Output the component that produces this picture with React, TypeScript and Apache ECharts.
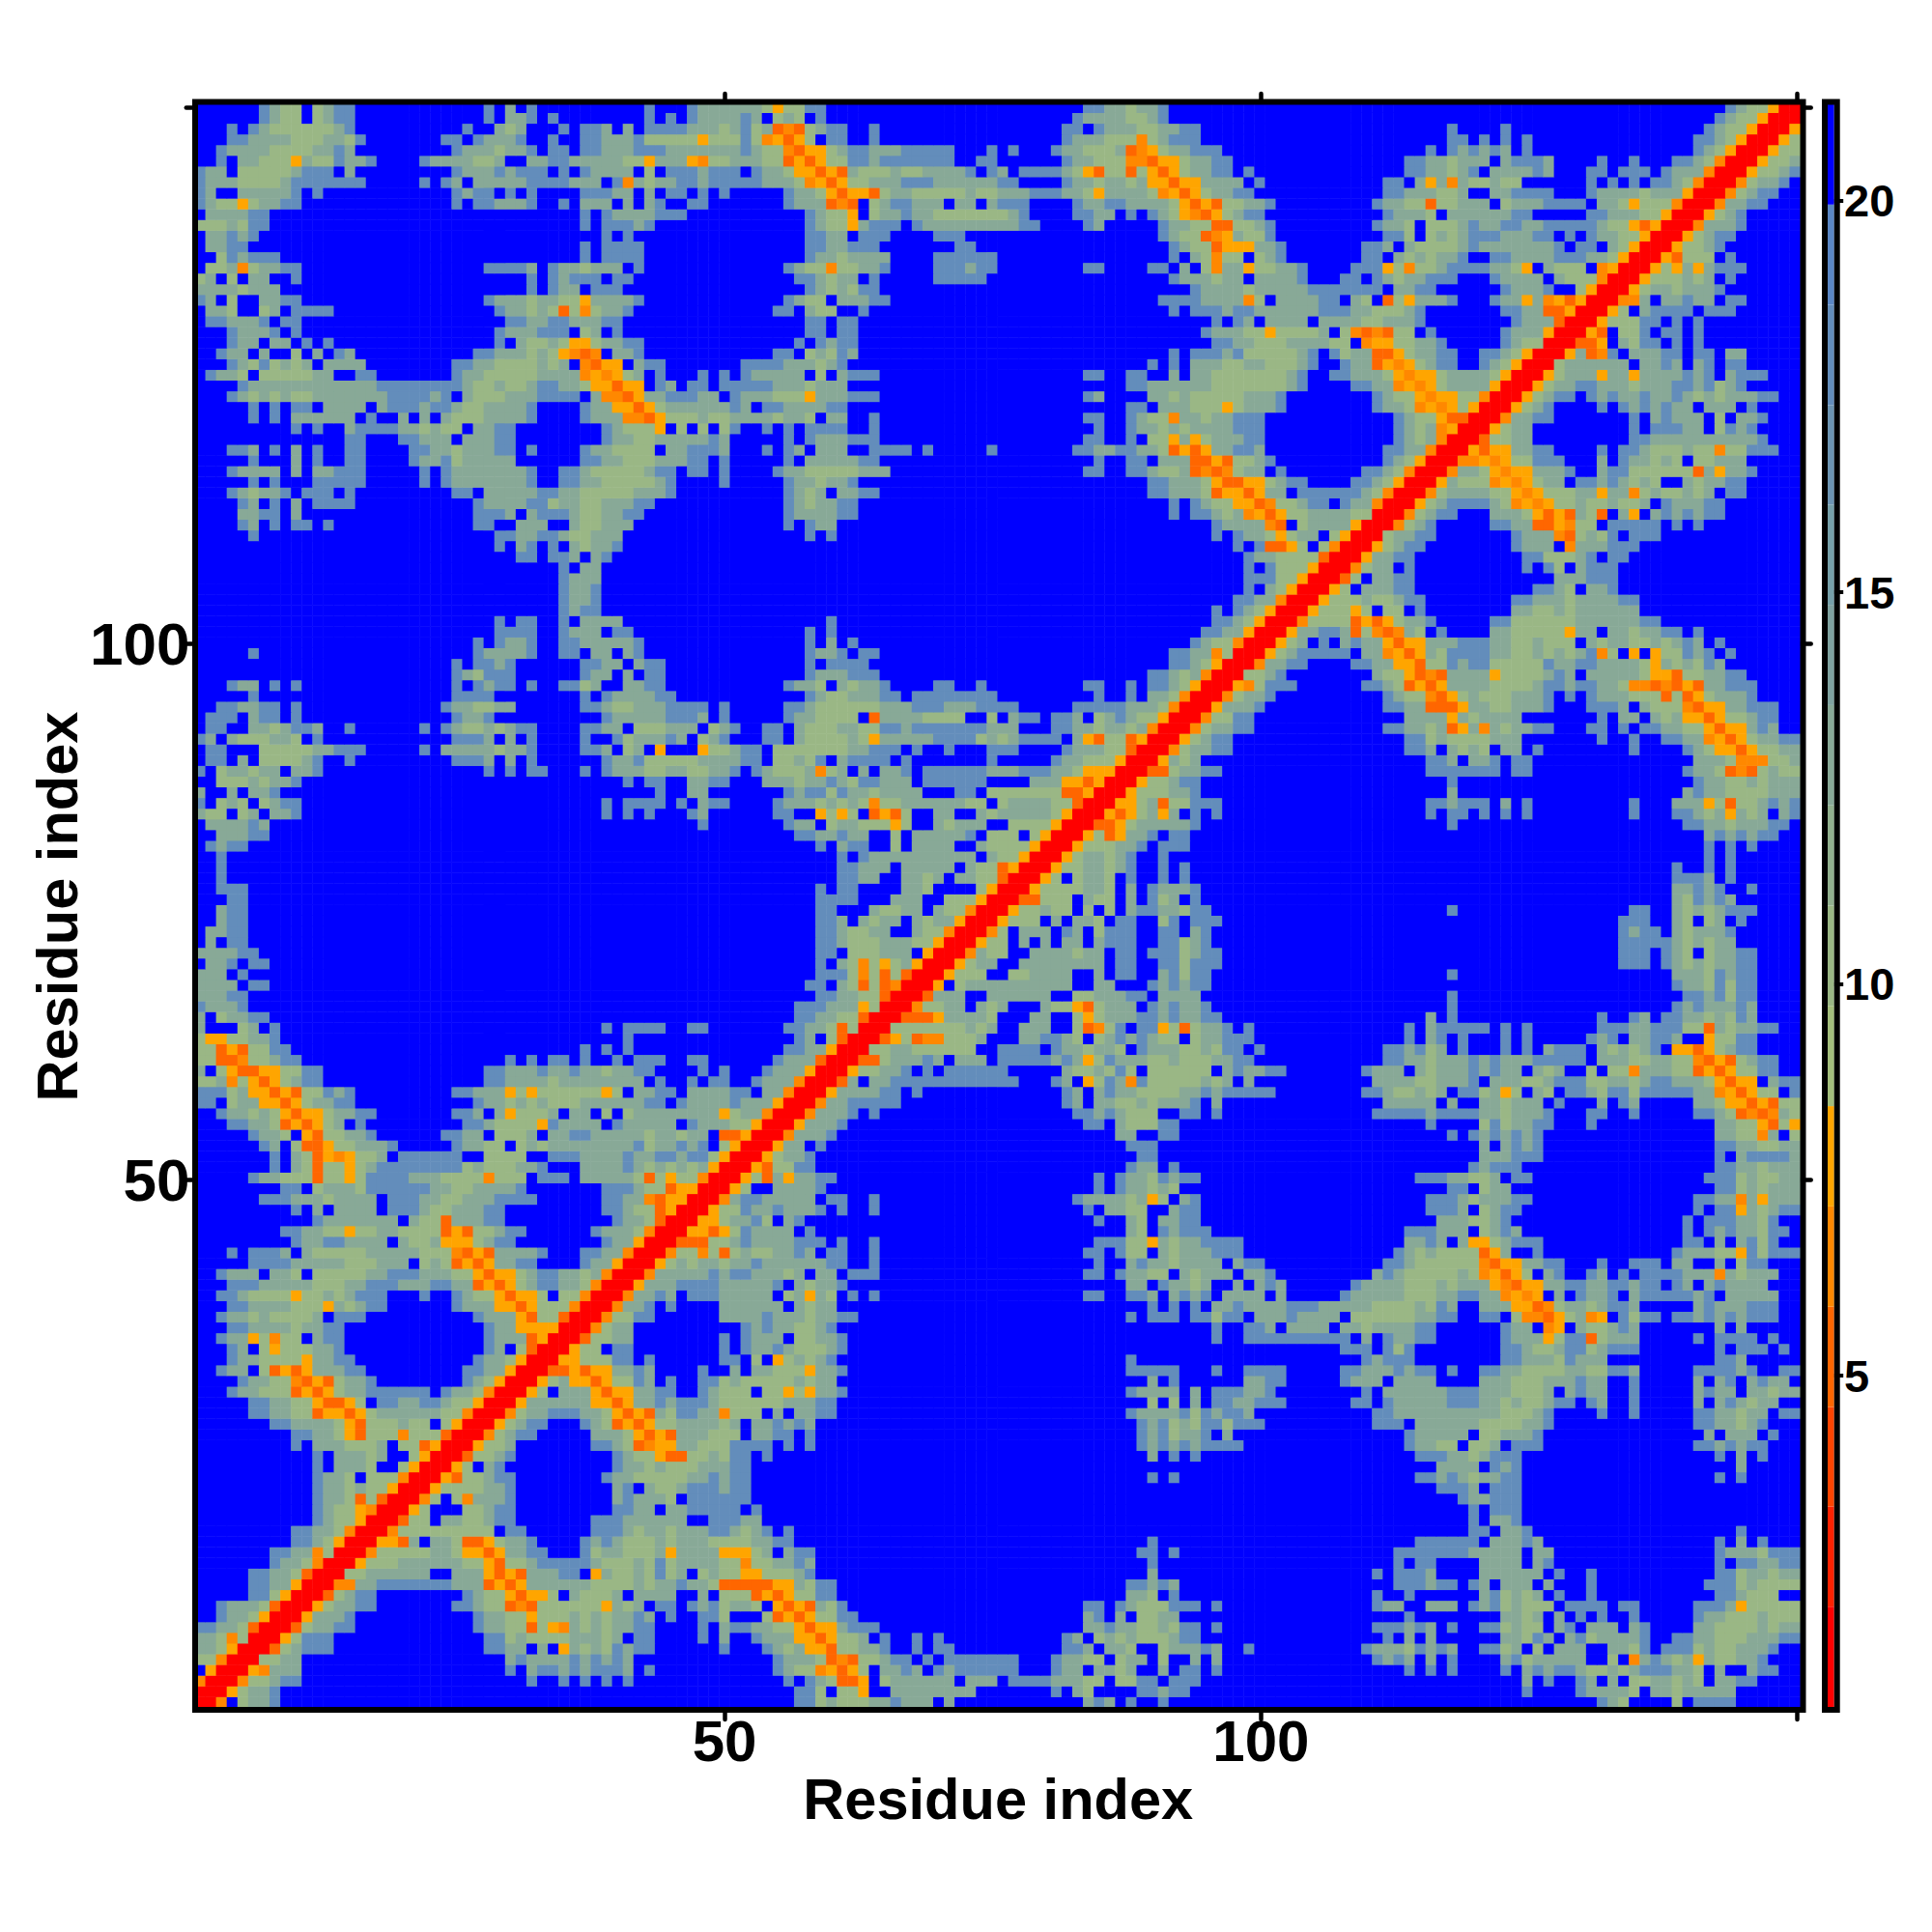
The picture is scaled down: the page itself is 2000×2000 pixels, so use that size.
import React, { useEffect, useRef } from "react";
import * as echarts from "echarts";

const FONT = "Liberation Sans";
const RESIDUES = Array.from({ length: 150 }, (_, k) => String(k + 1));
const TICK_RESIDUES = [50, 100, 150];
const LABEL_RESIDUES = [50, 100];
const COLORBAR_TICKS = [5, 10, 15, 20];
const X_TITLE = "Residue index";
const Y_TITLE = "Residue index";

// Colour key: 16 equal bands
const BAND_EDGES = [0.77, 2.05, 3.33, 4.6, 5.88, 7.16, 8.44, 9.72, 11.0, 12.28, 13.56, 14.84, 16.12, 17.39, 18.67, 19.95, 21.23];
const BAND_COLORS = ["#ff0000", "#ff2200", "#ff4400", "#ff6600", "#ff8800", "#ffa500", "#a3be7c", "#9ab785", "#91b08e", "#88a997", "#7fa2a0", "#76a0a9", "#6c94b2", "#638dbb", "#5a86c4", "#0000ff"];

// Distance read for each glyph of the rows below
const GLYPH_DISTANCE: Record<string, number> = { r: 1.4, R: 5.2, O: 6.5, o: 7.8, c: 10.3, b: 12.9, a: 18.0, ".": 20.6 };

// Rows of the symmetric distance map, residue 150 down to 1; each row runs from residue 1 to the diagonal.
// Words are ten residues long, "-" is ten residues beyond the cut-off.
const ROWS_150_101 = [
"......abcc .cbaa..... .......a.b .a........ ..a...abbb bbbcoccaa. - - ...aabbcbb a - - - - ...abccorr",
"......abcc .cbaa .......a.b ba.a ..a.a.abbb bab.cbc.a. - - ..abbbbccb a - - - - ..abccorr",
"...a.abccc cccba .....a..bc b...a.aab. b.aaaabbbc bacbRORcba a..a - .aa.abbbcc bbaa - .......a.. ..a....... - .abccorr",
"...aabbbbc ccbbca ...aa.abbb a..a..aabb bacccccocc cacOoRoc.a a..a - .abbbcccOc baaa - .......aa. a.a.a..... - aabcorr",
"..abbbbccc cbbab ....abbbcb ba.aa.aabb baaabbbbbb babccORooc baabbbaaaa a...a.a abbcccbROo cbbaaa - .....a.aba bab.a..... - abcorr",
"..a.bbccco bccabba .abbbbccb. .bbaabbbbb ccobbboOcc bbbccRoRoc caabaaaaaa a..aa .abbcccOOR oocbbaa - ...aabbcbb b.baaab... .a..a...aa bcOrr",
"abb.cccccb aaa.b ....abbbab aaa.a.abbb b.c.aaabaa a.abbcooRo Rbcccbccbb bba.ab.aaa abcoRccRco Rocbbaa.a - ...aabbcba .bbbbab... aa.aaa.abb bOrr",
"abbbccccba aaaaaa .a.ab.bbbb baaaabbb.a Obcbbaabaa aaabbbcOoR occbbbaaab bbbbbaa... .abbcbbcbo oRoobbbb.a - .aa.bobObc cbcc a.a.a.aabc Orr",
"ab..bbbbba .a ....abaa.a .a....aaab b.b.aa.a.a .....abbco RooRcbbccc ccbccbbbaa abbcobbbbc OoRocbbaa - .aabbbccb. .bbaaaa abbbbcbbbo rr",
"abccocbbaa - ....a.aabb ba..a.bbb. b.ba..aa .....abbbR OR.cbaabbb .bb.baaa ..abbaabbb bcoRoRccbb a abbccRccbb b.cbbbaaaa .bbcocccOr r",
".bbbbaa - - ......a.ab bbbaaa .......abc co.cbbabbc ccccccba ..aabb.a.a bcoORocbaa - .abbbc.bbb bbbaa aabbbccorr",
"cccbcaa - - ......a.aa aba .......abc cobaaa.abb bbbbbbbaa ...ab abbccRRccb a abbc.cccba bbaabbaaaa abccoRorr",
".bbaba - - ........a. a .......aab b.aaa....a aa - abccROobcc a .aac.cbcba aabbbaa.a. abbccorr",
".bbaa - - ......a.aa aa .......aab baaa .aa - .abccRooob ba.......a ab.bccccba bbbbbbba.a a.bcorr",
"..cabaaa - - ......a.aa aa .......abb cbbbb....a aaaaa - .a.bcOcc.c ba.......a a.bcbcbba. .aabbbbaaa bbcorr",
".ccbOcbbaa - .......aaa ab.abbcbbb .a .....abccO ccbba....a aabaa ...aa....a a.b.cObboc cbba....aa aocOccbaaa abbco.bccc .Oorr",
"cb.c.bb..a - - .a.abaaa.a a ......aabc bb.a.....a aaaa - .abbbcbb.b bbba...aa. abcbbaaa .abbbb.bcc cOrr",
"bbbbcbbb - - .a.abb.aaa - .......abc bcaa - - ...abbbbcb bbbbaaaaaa a.bbaa ..abbba..c orr",
"ab.c..bbaa - .......abb bcbbccobbb ba .....abcc. bbbaa - - aaaabbbbOc .bbbbaa.bc .Rcobbba.. .abbobOoRo rr",
".bbc..cb.a aaa ........ab bcbcRcOcbb a ....aa.bcc ..a - - .a.aaabaab bbbbbaaabb cccba ..aabbRRor r",
".aabbba.aa - .........a abbaabbbaa - .......aa. aa - - .....a.ab. bbbb.bbbbc cbbba ...abbbRrr",
"...abbba.a - ........ab bbaaa.cb.a - .......aa. aa - - ....abbbcc occccb.cOR ORcc.a ..abbborr",
"...abb.bb. a.a ........a. bccbcoocbb aa ......a.ab aa - - .....aabbc ccbbbbcc.O ooccbba ..abccrr",
"..abb.b..c .b.ab ......aabb bcbcoORO.b ba ....aa.cbc ab - - .a.aaabacc cccba.acbb RRocbbaa aabcorr",
"...abcacbc b.bbbb ....aabbcc ccbcb.ORoo .baa .aaaabbbcb a - .........a .a.bbbccbb cccba..abb RoOocbaa abcorr",
".abbc.cccc cbb..aa ....abbccc ccbbbbOoOo cb.a...a.a .abbbbb.c. baaa - ...aa..aa. .b.bbccccc ccba..aabb bcoOoocbbb bcorr",
"....abbbbb bbbbbbbaaa aaaaabccbc cbaabbcooR oo.ab.aa.a aaaabbbcbb b - .......aab bbbbbccccc ccba....aa bbOoOocbbb borr",
"...abcbcbc cbbbbbbbaa aaba.bcccb bbaaaa.bOO Robbaaabb. abbbcccobb baaa - ...ab....b bcbcccccbb ba abccoOoocc Orr",
".....a.a.a a.bbbb.baa abaabccbbb ba....abbo oRocbbbbbb ab.aabbbba a - .......aa. bbbcccocbb ba abbcOoOoco rr",
".....a.a.b bbbbb.a..b .b.bcccbbb ba....abbb OORocccbcc bbbbcbbc.b b..a - ...aa..abc cObbcbbaaa - ..abccoRRr r",
".........a .a..baaaab bcbcc.bbaa ........ab ccco.c.c.c a..a.a.aaa a..a - ....a..abb cbcbbbbaaa - ..abcbOorr",
"- ....aa...a abbb.bbbaa ........ab bccbbbbbab .....a.abb baaa - ...aa..a.c cobocbbbaa - ..abcbOrr",
"...aab.a.b .a..aa aabbcbbbaa .a....abbc ccc.bbaaab ...a.ab.bb b..aaaa.a. ....a ..aabbaabb cRoRobbaab - .aabbOrr",
".....a...b .a..aa abbacbbbbb ......aabb cccbbbaa.a .....a.bbb bbaa - ....a..aa. bbbRRoRccb a .abcorr",
"...abbbb.b .bbaaa .a.abbbbbb ba..aabccc ccbaa.aa.a ....abbccc ccbbb - ...aa..aab ccbROROcbb .a.......a abcOrr",
".....a.a.. .aaaaa .a.abbbbbb ba..aabbcc cccba....a .....abbcb ba - .........a abbbcoRRoo cbaa....aa bcorr",
"...abcbba. aaa.a ....aa.bbb bbaabbcccc cbbba .....abcb. bbaa - .........a abbbcRooRo bb.aaaaaab cOrr",
"....ab.a.b .aaaa ......abbb baacbbccbb baa .....abcbb aa - - .a.abccooR Occbaa.abb Orr",
"....bbaa.b - ......aaab .baaabccbb aa .....abbbb aa - - .a.aabcbOo Roccbbbbcc rr",
"....ab.a.a a.a ......aa.. bbb..bccbb b .....a.abb - - - .....abbbb OR.cbbbbor r",
".....a - ........aa bbaabccbbb - .......a.a - - - .....a.abb cocbb.corr",
"- - ........a. ba.a.bcbba - - - - - .......a.a RRoc.cOrr",
"- - - aa.aab.ba. - - - - - ........ab bccccRrr",
"- - - ....a.bb - - - - - ........a. acccorr",
"- - - ....abbb - - - - - ........aa accorr",
"- - - ....abba - - - - - ........a. bcorr",
"- - - ....abba - - - - - .......aab bOrr",
"- - - ....abaa - - - - - .....a.abc orr",
"- - ........a. aa..a.bbbb - .........a - - - .....aabco rr",
"- - ........aa aa..abbb.a a .......a.a - - - ....aabbor r",
];

const ROWS_100_51 = [
"- - ......a.ab ba..aabbbb ba .......a.b .a - - ...abccOrr",
".....a - ......abbb ba..aa.bb. ba .......abb a.aa - - .aabbOcrr",
"- - ....a.aaba ......aabb .baa .......a.a aaa - - .aabcorr",
"- - ....abcaaa ......abb. b.aa .......abb baaa - .........a abcbOrr",
"...abb.a.a - ....a.abaa .a..aacb.. bbaa .....abbc. bcbba....a a..a ...aa..a.a abcorr",
".....a - ....aaaa ......a.ab bbbaa .......abc cbbbaa.aaa aaaaa ....a..a.b bcOrr",
"..aabbaa.a - ...abbccbb ......aabc cbbbaaaa.a .....aabcc ccccbbbaaa bbbaaaa ..aaaaabbb cOrr",
".aaa.baa.a - ....abba ........ab bbbbaaab.a .....abbcc cc.Rbbbbcc cc..c.baa. aab.cbabcc orr",
".aa..bbcba ab..a .a.abccbcb aa....aabb .cccbbb.cb a..aa.bccc bbccaabaaa aaaabbb aabbcbbcbO rr",
"ab.bcccbbc .a ....aaab.b .a....a..a cbbbab.cba ...aa.bccc cbcobbbbba aaacbcbaaa a.boRccRor r",
".aa...cccc cbbaaa .a.bbbbbcb ba....aab. cb.o...occ baa.cccccc cbbaaa.a a...aaa .abbbccRrr",
".aa.b.cccc ba..a ....aaab.b .a......ab bacccccbbb baa.ccbca. baaaa.a ....a abbcccorr",
"a.cbbcbb.b ba .......a.a .aa...a.ab bbccbbccbb a.abcccbOc b.b.bba.aa aaaabbbaaa bbcooorr",
"..cccbcbba - - - a.aa..bbaa ...bbbcbba bcaabbb.aa aaaa....bb booRorr",
"b..b.bba - - - ...a..bb .....abaac abbcbbbb .aa.cccccc cRRorr",
"a.cbc.cbaa - - ........a. aaaa.a.baa ....abbbcb cbcOccbbbb bbcc.cbbbb ccRrr",
"bcc.cb.bba - - ........a. a.a...ab ....aa..oc oc.RoRc..b b..bcbbbbb corr",
".bbbbab - - - .......a .....abb.c bbcccoc..b cbbb..cccc orr",
"..bbbaa - - - - ......aabb abb..c.bbb bba.ccc.co rr",
".abaa - - - - ........a. baa..c.bbb b..bccccor r",
"..a - - - - - a.abbbbbbb bbb.bccorr",
"..a - - - - - aabbb.bbbb b.bccRorr",
"..a - - - - - aabb..bbcb .bbccRrr",
"..aaa - - - - ........a. aa....bbc. ...corr",
"...aa - - - - ........aa aa...bbb.. cccorr",
"..baa - - - - ........aa ...bccbb.b ccOrr",
"..baa - - - - ........aa b.bcbb.bcb borr",
".bbaa - - - - ........aa bccbb..bcc Orr",
".b.aa - - - - ........aa bcccbbbcco rr",
"bbbbaa - - - - ........aa .cccbbb.or r",
".bba.aa - - - - ........a. bcOcocborr",
"bbb.a - - - - ........aa acOcRcRrr",
"bbbb.aa - - - - .......aa. bcRcROrr",
"bbbaa - - - - ........aa bbccRrr",
"abbba - - - - ......aaab bbocrr",
"b.cbbaa - - - - ......aabb ccRrr",
"b...cb.a - - ........a. aaaa..aa .....aabbc Rcrr",
"cooccbba - - - a ......ab.c Rrr",
"ccRoRccaa. - - ......a.a. a .....aabbo rr",
"ccRROccbaa - .........a .a.aa.a..a .aaa..aa ....abbbRr r",
"b.coRRoocc aa .......aab bbabbabbcb baa....a.a ...abbborr",
"ccbOcoRocb aa .......aab bbbcbbbbbb bb.a..a.aa ..abbbOrr",
"aaacbooRoR ccaba ....aabbbo coccccccoc .bbaa.bbbb aa.bbOrr",
"aa.cbbooRo cbbaa ......abbc bcbcccbbbb bbaa.abbbb abbborr",
"..abbcbcoR oocbbaa ....aab.bo cccb.bb.c. cbbbbbbbbo cbbOrr",
"...aabbcRo Rocb.a .....aabcc ccoabbbb.a bbbbb.abbb ccorr",
".....abbc. oRccbba ...aabb.cc cb.bbaabbb bbcbbcbb.R Rorr",
"......ab.c RRoccbbba. ....abbcc. cbcbbbbbbb bacbbaba.c orr",
".......a.b cRoOoccb.a aaaaa..ccc c..aaabbbb abbaabaaco rr",
".......a.b cRccocbaaa aaaaacbccc bba...bbbb abcbcbcbor r",
];

const ROWS_50_1 = [
".....abbcc cRccocaaaa bbbccccOcc c.aaa.bbbb bcRcoccOrr",
"........aa .cbbbcaaaa aabbccbbbb a.......aa abccRoorr",
"......aaab bbcbbbb.aa abbccbbbaa aa......aa bbORoorr",
".........a .b.bbbb.aa abccbbbaa ........aa bccRorr",
"- .abbbbbbb. bccRbbbaa .........a bbcRrr",
"........aa bbccoccbbc cccRoRccba a......abb bcOrr",
".........a bbaabbbb.b ccbooocbaa ........ab borr",
"...a.aaab. bcccccbbbb bcccORoRbb bba...aabb Orr",
".....aaaab bbbbcccbbb .cbcRoRobb aa....abbo rr",
"..abbb.bbc .cccccbbaa abbbccoRoo cbaabbcbOr r",
"...aaabbbb bcccbbaaab bbaabbRoRo cbaabbcOrr",
"..aabcccco ccbcbaaa.. .a..abccoR ooc.ccOrr",
"...aabbbbc ccobcbaa ....abbboo RocccOrr",
"..abbcbccc cb.aaa ......abbb oRccRrr",
"...aabbbbc bbaa .......abb oooorr",
"..abbocOcc .baa .......abb bRorr",
"...ab.cocc cbba .......ab. cRrr",
"...abbcccc obbaa ......abbc orr",
"..abb.cRoR obbbaa .....aabbo rr",
"....abbccO RoRcbba .....abcor r",
"...abbcccR oRocbbaaaa aa.abbcOrr",
".....aabbc coRRoc.aab baabccorr",
".....aabbc cRooRocbbb bbbccOrr",
".......aab bbbcoRcccb cc.corr",
".........a abbcoRcccO cccRrr",
".........a .bbbcccb.c cRorr",
"- .a.bbbcb corr",
"- .a.bbbc..c orr",
"- .abbc.cccO rr",
"- .abbcbccor r",
"- .abbcRcRrr",
"- .abccoOrr",
"- .abccorr",
".........a abbcOrr",
".........a abcorr",
".......aab bOcrr",
".......abb cOrr",
".....aabbc Rrr",
".....aabbo rr",
".....aacor r",
"..abbbcRrr",
"..abbcorr",
"aabbcRrr",
"bbcOcrr",
"bbcorr",
"ccOrr",
".orr",
"Orr",
"rr",
"r",
];

function buildCells(): [number, number, number][] {
  const n = RESIDUES.length;
  const matrix: number[][] = RESIDUES.map(() => RESIDUES.map(() => GLYPH_DISTANCE["."]));
  const rows = [...ROWS_150_101, ...ROWS_100_51, ...ROWS_50_1];
  rows.forEach((row, r) => {
    const j = n - 1 - r;
    const text = row
      .split(" ")
      .map((w) => (w === "-" ? ".........." : w.padEnd(10, ".")))
      .join("");
    for (let i = 0; i <= j; i++) {
      const d = GLYPH_DISTANCE[text[i] ?? "."] ?? GLYPH_DISTANCE["."];
      matrix[j][i] = d;
      matrix[i][j] = d;
    }
  });
  const cells: [number, number, number][] = [];
  matrix.forEach((line, y) => line.forEach((d, x) => cells.push([x, y, d])));
  return cells;
}

const GRID = { left: 201.7, top: 105.7, width: 1662, height: 1662 };
const BAR = { left: 1892, top: 108, width: 6.7, height: 1659 };
const TICK_GRID = { left: 205.8, top: 111, width: 1654.9, height: 1655 };

export default function App() {
  const ref = useRef<HTMLDivElement>(null);
  useEffect(() => {
    if (!ref.current) return;
    const chart = echarts.init(ref.current, undefined, { renderer: "svg", width: 2000, height: 2000 });
    const residueAxis = (position: string, tickLength: number) => ({
      type: "value",
      gridIndex: 2,
      position,
      min: 1,
      max: 150,
      axisLine: { show: false },
      axisTick: {
        show: true,
        length: tickLength,
        customValues: TICK_RESIDUES,
        lineStyle: { color: "#000", width: 4.5, cap: "round" },
      },
      axisLabel: { show: false },
      splitLine: { show: false },
    });
    const labelStyle = {
      color: "#000",
      fontFamily: FONT,
      fontWeight: "bold",
      fontSize: 60,
    };
    const bandSeries = BAND_COLORS.map((color, k) => ({
      type: "bar",
      xAxisIndex: 1,
      yAxisIndex: 1,
      stack: "key",
      barWidth: "100%",
      silent: true,
      itemStyle: { color },
      data: [k === 0 ? BAND_EDGES[1] : +(BAND_EDGES[k + 1] - BAND_EDGES[k]).toFixed(2)],
    }));
    chart.setOption({
      animation: false,
      backgroundColor: "#fff",
      grid: [
        { ...GRID, show: false },
        { ...BAR, show: false },
        { ...TICK_GRID, show: false },
      ],
      xAxis: [
        { type: "category", gridIndex: 0, data: RESIDUES, show: false },
        { type: "category", gridIndex: 1, data: ["key"], show: false },
        {
          ...residueAxis("bottom", 14),
          axisLabel: { ...labelStyle, margin: 6.2, customValues: LABEL_RESIDUES },
          name: X_TITLE,
          nameLocation: "middle",
          nameGap: 66,
          nameMoveOverlap: false,
          nameTextStyle: { ...labelStyle, fontSize: 59.6 },
        },
        residueAxis("top", 14),
      ],
      yAxis: [
        { type: "category", gridIndex: 0, data: RESIDUES, show: false },
        {
          type: "value",
          gridIndex: 1,
          position: "right",
          min: BAND_EDGES[0],
          max: BAND_EDGES[BAND_EDGES.length - 1],
          axisLine: { show: false },
          axisTick: {
            show: true,
            length: 9.5,
            customValues: COLORBAR_TICKS,
            lineStyle: { color: "#000", width: 4 },
          },
          axisLabel: {
            color: "#000",
            fontFamily: FONT,
            fontWeight: "bold",
            fontSize: 47,
            margin: 10.3,
            customValues: COLORBAR_TICKS,
          },
          splitLine: { show: false },
        },
        {
          ...residueAxis("left", 13),
          axisLabel: { ...labelStyle, fontSize: 62, margin: 9.3, customValues: LABEL_RESIDUES },
          name: Y_TITLE,
          nameLocation: "middle",
          nameGap: 116,
          nameMoveOverlap: false,
          nameTextStyle: { ...labelStyle, fontSize: 59.6 },
        },
        residueAxis("right", 14),
      ],
      visualMap: {
        show: false,
        type: "piecewise",
        seriesIndex: 0,
        dimension: 2,
        pieces: BAND_COLORS.map((color, k) => ({ gte: BAND_EDGES[k], lt: BAND_EDGES[k + 1], color })),
      },
      series: [
        {
          type: "heatmap",
          xAxisIndex: 0,
          yAxisIndex: 0,
          progressive: 0,
          silent: true,
          data: buildCells(),
        },
        ...bandSeries,
      ],
      graphic: [
        {
          type: "rect",
          z: 100,
          silent: true,
          shape: { x: 202, y: 105.5, width: 1664.5, height: 1664.5 },
          style: { fill: "none", stroke: "#000", lineWidth: 6 },
        },
        {
          type: "rect",
          z: 100,
          silent: true,
          shape: { x: 1889, y: 105.5, width: 12.7, height: 1664.5 },
          style: { fill: "none", stroke: "#000", lineWidth: 6 },
        },
      ],
    });
    return () => chart.dispose();
  }, []);
  return <div ref={ref} style={{ position: "absolute", left: 0, top: 0, width: 2000, height: 2000 }} />;
}
